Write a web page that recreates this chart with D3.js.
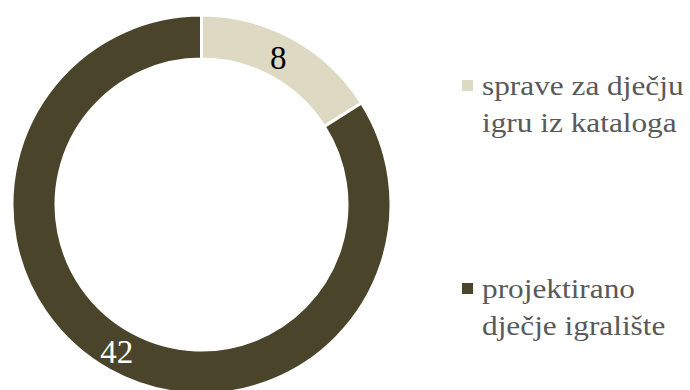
<!DOCTYPE html>
<html>
<head>
<meta charset="utf-8">
<script src="https://cdn.jsdelivr.net/npm/d3@7"></script>
<style>
  body { margin: 0; background: #fff; }
  svg { display: block; }
</style>
</head>
<body>
<svg width="690" height="390"></svg>
<script>
const categories = ['sprave za dječju igru iz kataloga', 'projektirano dječje igralište'];
const legendLines = [['sprave za dječju', 'igru iz kataloga'], ['projektirano', 'dječje igralište']];
const values = [8, 42];
const colors = ['#DDD9C3', '#4A452A'];
const labelColors = ['#000000', '#ffffff'];

const serif = 'Liberation Serif';

const svg = d3.select('svg');

const cx = 201.5, cy = 204.5;
const outerR = 189.5, innerR = 145.5;

const pie = d3.pie().sort(null).value(d => d);
const arc = d3.arc().innerRadius(innerR).outerRadius(outerR);

const g = svg.append('g').attr('transform', `translate(${cx},${cy})`);
const arcs = pie(values);

g.selectAll('path')
  .data(arcs)
  .enter().append('path')
    .attr('d', arc)
    .attr('fill', (d, i) => colors[i])
    .attr('stroke', '#fff')
    .attr('stroke-width', 3);

// value labels sit on the arc centroid, nudged a bit toward the start
g.selectAll('text')
  .data(arcs)
  .enter().append('text')
    .attr('transform', d => {
      const [x, y] = arc.centroid(d);
      return `translate(${x - 4},${y})`;
    })
    .attr('text-anchor', 'middle')
    .attr('dy', '0.35em')
    .attr('font-family', serif)
    .attr('font-size', 33)
    .attr('fill', (d, i) => labelColors[i])
    .text(d => d.data);

// legend
const legend = svg.append('g').attr('transform', 'translate(462,0)');
const legendY = d3.scalePoint().domain(categories).range([80, 283]);

const item = legend.selectAll('g')
  .data(categories)
  .enter().append('g')
    .attr('transform', d => `translate(0,${legendY(d)})`);

item.append('rect')
  .attr('width', 11).attr('height', 11)
  .attr('fill', (d, i) => colors[i]);

item.append('text')
  .attr('transform', 'translate(20,15) scale(1.16,1)')
  .attr('font-family', serif)
  .attr('font-size', 27)
  .attr('fill', '#595959')
  .selectAll('tspan')
  .data((d, i) => legendLines[i])
  .enter().append('tspan')
    .attr('x', 0)
    .attr('dy', (d, i) => i === 0 ? 0 : 37)
    .text(d => d);
</script>
</body>
</html>
